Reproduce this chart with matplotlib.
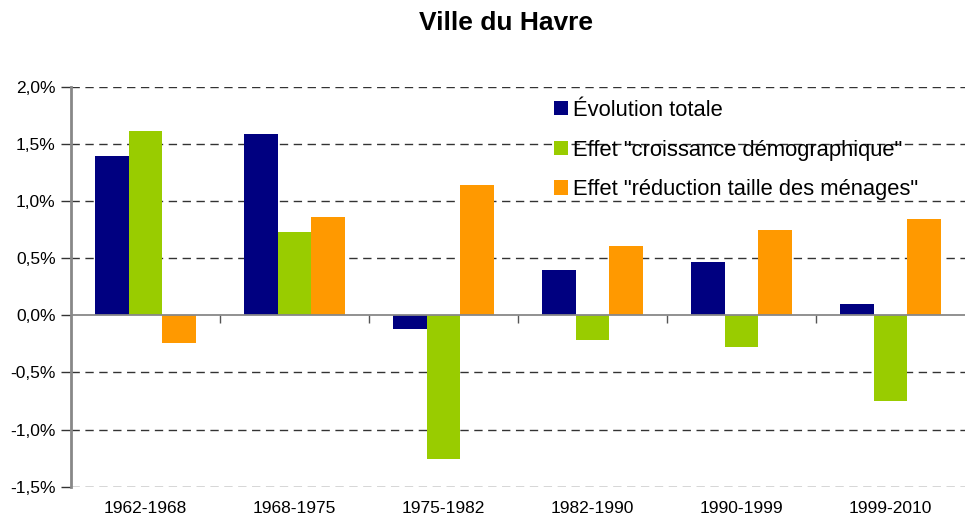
import numpy as np
import matplotlib.pyplot as plt
from matplotlib.ticker import FuncFormatter

plt.rcParams['font.family'] = ['Liberation Sans', 'DejaVu Sans']

periods = ['1962-1968', '1968-1975', '1975-1982', '1982-1990', '1990-1999', '1999-2010']
evolution = [1.39, 1.59, -0.12, 0.40, 0.47, 0.10]
croissance = [1.61, 0.73, -1.26, -0.22, -0.28, -0.75]
reduction = [-0.24, 0.86, 1.14, 0.61, 0.75, 0.84]

labels = ['Évolution totale', 'Effet "croissance démographique"',
          'Effet "réduction taille des ménages"']
colors = ['#000080', '#99CC00', '#FF9900']

fig = plt.figure(figsize=(9.68, 5.22), dpi=100)
ax = fig.add_axes([0.0733, 0.0676, 0.9237, 0.7664])

x = np.arange(len(periods))
w = 0.225
for i, (vals, lab, c) in enumerate(zip([evolution, croissance, reduction], labels, colors)):
    ax.bar(x + (i - 1) * w, vals, w, color=c, label=lab, zorder=3)

ymin, ymax = -1.5, 2.0
ax.set_ylim(ymin, ymax)
ax.set_xlim(-0.5, len(periods) - 0.5)

yt = np.arange(-1.5, 2.01, 0.5)
ax.set_yticks(yt)
ax.yaxis.set_major_formatter(FuncFormatter(lambda v, p: f'{v:.1f}%'.replace('.', ',')))
for v in yt:
    if abs(v) > 1e-9:
        ax.axhline(v, color='#333333', lw=1, ls=(0, (6, 4)), zorder=1)
ax.axhline(0, color='#888888', lw=1.3, zorder=4)

ax.tick_params(axis='y', length=7, width=1, color='#333333', labelsize=12.5, pad=4)
ax.set_xticks(x)
ax.set_xticklabels(periods)
ax.tick_params(axis='x', length=0, labelsize=12.5, pad=10)

for s in ['top', 'right', 'bottom']:
    ax.spines[s].set_visible(False)
ax.spines['left'].set_color('#888888')
ax.spines['left'].set_linewidth(2)

# boundary ticks on the zero line
sec = ax.secondary_xaxis((0 - ymin) / (ymax - ymin))
sec.set_xticks(np.arange(0.5, len(periods) - 0.5, 1))
sec.set_xticklabels([])
sec.tick_params(length=6, width=1, color='#555555', direction='out')
sec.spines['bottom'].set_visible(False)

fig.text(0.523, 0.955, 'Ville du Havre', fontsize=19, fontweight='bold',
         ha='center', va='center')

ax.legend(loc='upper left', bbox_to_anchor=(0.54, 0.967), frameon=False, fontsize=15.8,
          handlelength=0.64, handleheight=0.64, handletextpad=0.25, labelspacing=0.85,
          borderaxespad=0, borderpad=0)

fig.savefig('out.png', dpi=100)
